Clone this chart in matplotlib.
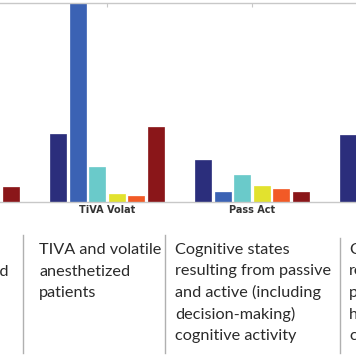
import numpy as np
import matplotlib
matplotlib.use("Agg")
import matplotlib.pyplot as plt

# group labels (outer groups are cut off in the crop)
groups = ["", "TiVA Volat", "Pass Act", ""]
# six series per group, heights in arbitrary units (nan = outside the crop)
s_navy = [np.nan, 34.0, 21.0, 33.5]
s_blue = [np.nan, 105.0, 5.0, np.nan]
s_cyan = [np.nan, 17.5, 13.5, np.nan]
s_yellow = [np.nan, 4.0, 8.0, np.nan]
s_orange = [np.nan, 3.0, 6.5, np.nan]
s_darkred = [7.5, 37.5, 5.0, np.nan]

series = [s_navy, s_blue, s_cyan, s_yellow, s_orange, s_darkred]
colors = ["#2b2e7c", "#3b62b4", "#6acaca", "#e2e22e", "#f25a26", "#8a1619"]

# column captions below the chart
col_left = ["Awake, sleep", "and anesthetized", "patients"]
col_tiva = ["TIVA and volatile", "anesthetized", "patients"]
col_pass = ["Cognitive states", "resulting from passive", "and active (including",
            "decision-making)", "cognitive activity"]
col_right = ["Cognitive", "resting-state", "patients and", "healthy", "controls"]

W, H = 356, 364
fig = plt.figure(figsize=(W / 100, H / 100), dpi=100)

def fx(px):
    return px / W

def fy(py):
    return 1 - py / H

ax = fig.add_axes([0, fy(202), 1, (202 - 3) / H])
x = np.arange(len(groups))
step, width = 0.134, 0.11
for k, (vals, c) in enumerate(zip(series, colors)):
    ax.bar(x + (k - 2.5) * step, vals, width, color=c, edgecolor=c, lw=0.5)

ax.set_xticks(x)
ax.set_xticklabels(groups, fontsize=7, fontweight="bold", color="#333333")
ax.set_xlim(1 - 107 / 145, 1 + 249 / 145)
ax.set_ylim(0, 100)
ax.tick_params(axis="x", direction="in", length=3, color="#c8c8c8",
               top=True, bottom=False, pad=2)
ax.set_yticks([])
for side in ["left", "right"]:
    ax.spines[side].set_visible(False)
for side in ["top", "bottom"]:
    ax.spines[side].set_color("#c8c8c8")
    ax.spines[side].set_linewidth(1)

# separators
for sx, y0 in [(22.7, 235), (165, 235), (339.5, 238)]:
    fig.add_artist(plt.Line2D([fx(sx), fx(sx)], [fy(y0), fy(353)],
                              color="#b0b0b0", lw=1))

font = dict(family="Lato", fontsize=11.7, color="#2a2a2a", va="baseline")
baselines = [254, 275.5, 297, 318.5, 340]
for x0, lines in [(39, col_tiva), (175, col_pass), (349, col_right)]:
    for yb, line in zip(baselines, lines):
        fig.text(fx(x0), fy(yb), line, **font)

# left column is cut off: only the end of its second line shows
r = fig.canvas.get_renderer()
probe = fig.text(0, 0, col_left[1], **font)
wpx = probe.get_window_extent(r).width
probe.remove()
x_left = 9 - wpx
for yb, line in zip(baselines, col_left):
    fig.text(fx(x_left), fy(yb), line, **font)

fig.savefig("out.png", dpi=100)
